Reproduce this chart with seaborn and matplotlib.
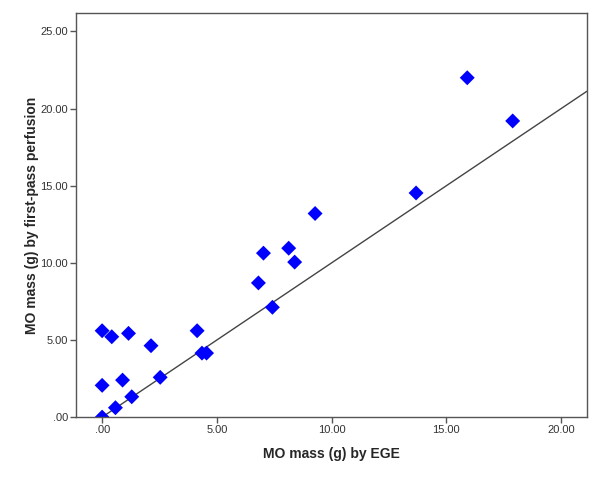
import matplotlib
matplotlib.use("Agg")
import matplotlib.pyplot as plt
import seaborn as sns
import pandas as pd
from matplotlib.ticker import FuncFormatter

# MO mass by EGE (x) and by first-pass perfusion (y)
ege = [0.0, 0.42, 1.15, 2.13, 0.0, 0.89, 1.29, 0.58, 0.0, 2.53,
       4.14, 4.35, 4.55, 6.81, 7.03, 7.42, 8.13, 8.39, 9.28, 13.68,
       15.91, 17.89]
perfusion = [5.60, 5.21, 5.43, 4.63, 2.06, 2.40, 1.32, 0.61, 0.0, 2.58,
             5.60, 4.15, 4.15, 8.70, 10.63, 7.12, 10.95, 10.05, 13.2, 14.53,
             22.0, 19.2]
x_ticks = [0, 5, 10, 15, 20]
y_ticks = [0, 5, 10, 15, 20, 25]

df = pd.DataFrame({"ege": ege, "perfusion": perfusion})

sns.set_style("white")
plt.rcParams["font.family"] = ["Liberation Sans", "DejaVu Sans"]

fig, ax = plt.subplots(figsize=(6, 4.8), dpi=100)
fig.subplots_adjust(left=0.127, right=0.978, top=0.973, bottom=0.131)

xlim = (-1.13, 21.12)
ylim = (0, 26.2)

# line of identity
ax.plot([0, xlim[1]], [0, xlim[1]], color="#444444", linewidth=1.0, zorder=1)

sns.scatterplot(data=df, x="ege", y="perfusion", marker="D", s=58,
                color="#0000ff", edgecolor="none", ax=ax, zorder=2)

ax.set_xlim(*xlim)
ax.set_ylim(*ylim)
ax.set_xticks(x_ticks)
ax.set_yticks(y_ticks)

def spss_fmt(v, pos):
    s = f"{v:.2f}"
    return s[1:] if s.startswith("0") else s

ax.xaxis.set_major_formatter(FuncFormatter(spss_fmt))
ax.yaxis.set_major_formatter(FuncFormatter(spss_fmt))

for sp in ax.spines.values():
    sp.set_color("#555555")
    sp.set_linewidth(1.0)

ax.tick_params(axis="both", which="major", direction="out", length=4,
               width=1, color="#555555", labelsize=8, labelcolor="#333333",
               bottom=True, left=True, pad=2)

ax.set_xlabel("MO mass (g) by EGE", fontsize=10, fontweight="bold", labelpad=8)
ax.set_ylabel("MO mass (g) by first-pass perfusion", fontsize=10,
              fontweight="bold", labelpad=1)

fig.savefig("out.png", dpi=100)
